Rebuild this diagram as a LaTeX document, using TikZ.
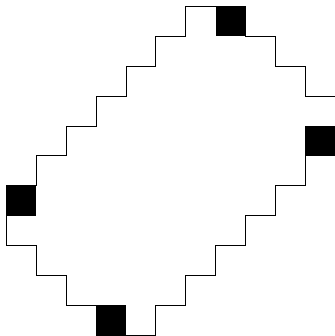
\documentclass[tikz,border=0pt]{standalone}
\begin{document}
\begin{tikzpicture}[x=1cm,y=-1cm,
  outline/.style={draw=black,line width=0.8pt,line join=miter},
  cell/.style={fill=black}]
\useasboundingbox (-0.212,-0.212) rectangle (10.959,11.025);
% black cells
\fill[cell] (7,0) rectangle (8,1);
\fill[cell] (10,4) rectangle (11,5);
\fill[cell] (3,10) rectangle (4,11);
\fill[cell] (0,6) rectangle (1,7);
% outline
\draw[outline] (6,0) -- (8,0) -- (8,1) -- (9,1) -- (9,2) -- (10,2) -- (10,3) -- (11,3)
  -- (11,5) -- (10,5) -- (10,6) -- (9,6) -- (9,7) -- (8,7) -- (8,8) -- (7,8) -- (7,9)
  -- (6,9) -- (6,10) -- (5,10) -- (5,11) -- (3,11) -- (3,10) -- (2,10) -- (2,9) -- (1,9)
  -- (1,8) -- (0,8) -- (0,6) -- (1,6) -- (1,5) -- (2,5) -- (2,4) -- (3,4) -- (3,3)
  -- (4,3) -- (4,2) -- (5,2) -- (5,1) -- (6,1) -- cycle;
\end{tikzpicture}
\end{document}
